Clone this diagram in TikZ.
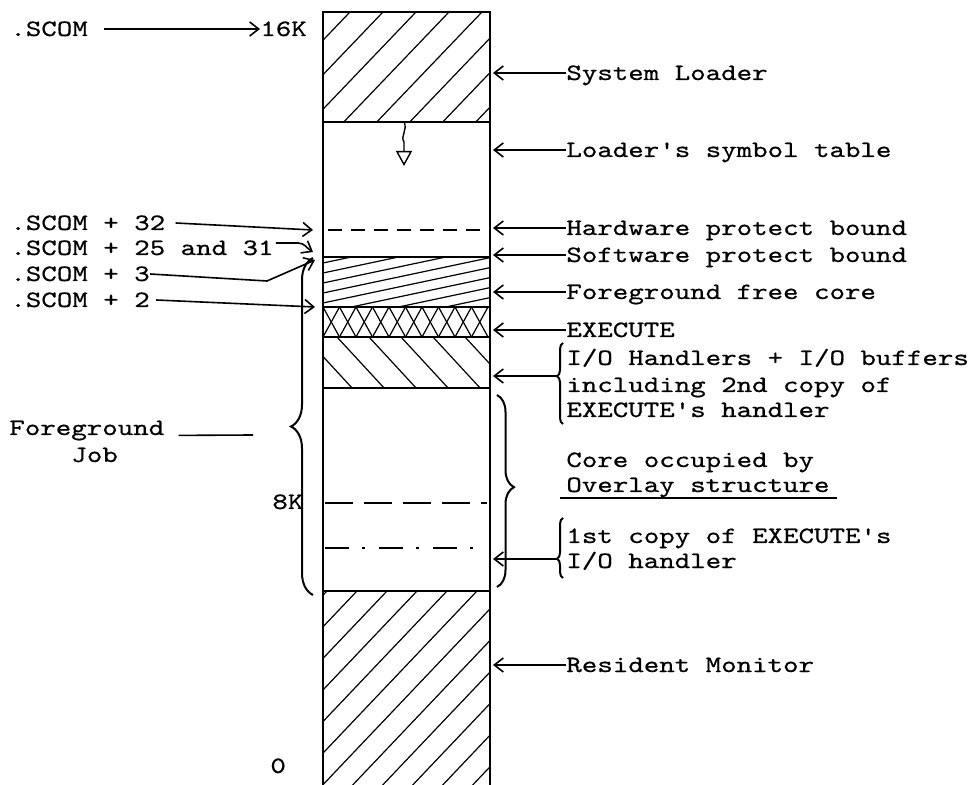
\documentclass[tikz,border=0pt]{standalone}
\usepackage{fontspec}
\setmonofont{lmmono10-regular.otf}[FakeStretch=1.26,FakeBold=0.6]
\usetikzlibrary{arrows.meta,decorations.pathreplacing}

\tikzset{
  lbl/.style={inner sep=0pt, anchor=base west, text height=7pt, text depth=0pt,
    font=\fontsize{11.7}{14}\selectfont\ttfamily},
  arr/.style={line width=0.8pt, -{Straight Barb[length=4.5pt,width=7pt]}},
  hatch/.style={line width=0.6pt},
  bound/.style={line width=0.9pt},
  curly/.style={line width=1pt, decorate, decoration={brace, amplitude=#1}},
}

\begin{document}
\begin{tikzpicture}[x=0.5pt,y=0.5pt]
\useasboundingbox (0,0) rectangle (974,-785);

% ---------- hatching ----------
\begin{scope}
\clip (323,-12) rectangle (490,-122);
\foreach \x in {317,350,...,614} \draw[hatch] (\x,-12) -- ++(-110,-115);
\end{scope}
\begin{scope}
\clip (323,-257) rectangle (490,-307);
\foreach \y in {263,273,...,353} \draw[hatch] (323,-\y) -- ++(170,36);
\end{scope}
\begin{scope}
\clip (323,-307) rectangle (490,-337);
\foreach \i in {0,...,9} {
  \draw[hatch] ({323+16.5*\i},-307) -- ++(16.5,-30);
  \draw[hatch] ({339.5+16.5*\i},-307) -- ++(-16.5,-30);
}
\end{scope}
\begin{scope}
\clip (323,-337) rectangle (490,-388);
\foreach \x in {273,305,...,497} \draw[hatch] (\x,-337) -- ++(48,-52);
\end{scope}
\begin{scope}
\clip (323,-591) rectangle (490,-785);
\foreach \x in {327,357,...,687} \draw[hatch] (\x,-591) -- ++(-190,-200);
\end{scope}

% ---------- core column ----------
\draw[bound] (323,-785) -- (323,-12) -- (490,-12) -- (490,-785);
\draw[bound] (323,-122) -- (490,-122);
\draw[bound,dash pattern=on 7pt off 4.5pt] (328,-230) -- (490,-230);
\draw[bound] (323,-257) -- (490,-257);
\draw[line width=1.3pt] (323,-307) -- (490,-307);
\draw[line width=1.3pt] (323,-337) -- (490,-337);
\draw[bound] (323,-388) -- (490,-388);
\draw[bound,dash pattern=on 14pt off 5.5pt] (325,-503) -- (487,-503);
\draw[bound,dash pattern=on 12pt off 6.5pt on 1.5pt off 7pt] (325,-548) -- (487,-548);
\draw[bound] (323,-591) -- (490,-591);

% symbol table grows down
\draw[line width=0.7pt,-{Triangle[open,length=7.5pt,width=8pt]}]
  (404,-122) .. controls (408,-130) and (400,-136) .. (404,-142) -- (404,-166);

% ---------- right labels ----------
\coordinate (colR) at (493,0);
\node[lbl] (sysldr) at (566,-80) {System Loader};
\node[lbl] (symtab) at (566,-157) {Loader's symbol table};
\node[lbl] (hwbound) at (566,-235) {Hardware protect bound};
\node[lbl] (swbound) at (566,-262) {Software protect bound};
\node[lbl] (fgfree) at (566,-299) {Foreground free core};
\node[lbl] (execlbl) at (566,-337) {EXECUTE};
\foreach \n in {sysldr,symtab,hwbound,swbound,fgfree,execlbl}
  \draw[arr] (\n.west) -- (\n.west -| colR);

\node[lbl] (io1) at (566,-365) {I/O Handlers + I/O buffers};
\node[lbl] (io2) at (566,-392) {including 2nd copy of};
\node[lbl] (io3) at (566,-417) {EXECUTE's handler};
\coordinate (iotip) at (557,-376);
\draw[curly=3pt, decoration={aspect=0.59}] (563,-424) -- (563,-343);
\draw[arr] (iotip) -- (iotip -| colR);

\node[lbl] (core1) at (566,-467) {Core occupied by};
\node[lbl] (core2) at (566,-492) {Overlay structure};
\draw[line width=0.8pt] (560,-498) -- (837,-498);
\draw[curly=8.5pt, decoration={aspect=0.48}] (497,-395) -- (497,-587);

\node[lbl] (copy1) at (566,-543) {1st copy of EXECUTE's};
\node[lbl] (copy2) at (566,-568) {I/O handler};
\coordinate (copytip) at (557,-559);
\draw[curly=3pt, decoration={aspect=0.32}] (563,-578) -- (563,-518);
\draw[arr] (copytip) -- (copytip -| colR);

\node[lbl] (resmon) at (566,-672) {Resident Monitor};
\draw[arr] (resmon.west) -- (resmon.west -| colR);

% ---------- left labels ----------
\node[lbl] (scom) at (10,-36) {.SCOM};
\node[lbl] (sixteen) at (260,-36) {16K};
\draw[arr] ([xshift=8pt]scom.east) -- (sixteen.west);

\node[lbl] (s32) at (10,-230) {.SCOM + 32};
\node[lbl] (s25) at (10,-255) {.SCOM + 25 and 31};
\node[lbl] (s3) at (10,-281) {.SCOM + 3};
\node[lbl] (s2) at (10,-307) {.SCOM + 2};
\coordinate (c32) at (313,-230);
\coordinate (c25) at (313,-252);
\coordinate (bend3) at (267,-281);
\coordinate (c3) at (315,-260);
\coordinate (c2) at (315,-307);
\draw[arr] ([xshift=5pt]s32.east) -- (c32);
\draw[arr] ([shift={(1pt,2.5pt)}]s25.east) -- ++(11pt,0) to[out=0,in=150] (c25);
\draw[arr] (s3.east) -- (bend3) -- (c3);
\draw[arr] ([xshift=3pt]s2.east) -- (c2);

\draw[curly=11pt] (313,-595) -- (313,-258);
\node[lbl] (fg1) at (9,-435) {Foreground};
\node[lbl] (fg2) at (71,-462) {Job};
\coordinate (fgend) at (253,-435);
\draw[line width=0.8pt] ([xshift=7pt]fg1.south east) -- (fgend);

\node[lbl] (eightk) at (272,-509) {8K};
\node[lbl] (zero) at (270,-773) {0};

\end{tikzpicture}
\end{document}
